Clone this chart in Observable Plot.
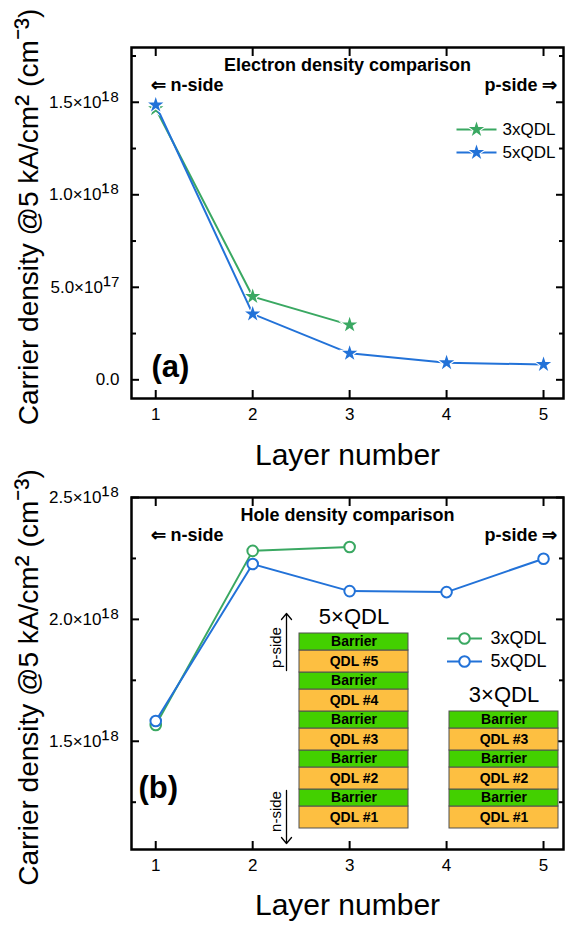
<!DOCTYPE html>
<html><head><meta charset="utf-8">
<script src="https://cdn.jsdelivr.net/npm/d3@7"></script>
<script src="https://cdn.jsdelivr.net/npm/@observablehq/plot@0.6"></script>
<style>
body{margin:0;background:#fff;}
#wrap{position:relative;width:565px;height:925px;overflow:hidden;background:#fff;}
#wrap svg{display:block;}
#inset{position:absolute;left:260px;top:600px;}
</style></head><body><div id="wrap"></div>
<script>
// ---------- data ----------
const layers = [1, 2, 3, 4, 5];
const seriesNames = ["3xQDL", "5xQDL"];
const seriesColors = ["#3aa862", "#2272d8"];
const electron3x = [1.465e18, 4.50e17, 2.97e17];
const electron5x = [1.485e18, 3.56e17, 1.43e17, 9.2e16, 8.3e16];
const hole3x = [1.567e18, 2.281e18, 2.297e18];
const hole5x = [1.583e18, 2.227e18, 2.116e18, 2.112e18, 2.249e18];
const electronMajor = [0, 5e17, 1e18, 1.5e18];
const electronMinor = [2.5e17, 7.5e17, 1.25e18, 1.75e18];
const holeMajor = [1.5e18, 2e18, 2.5e18];
const holeMinor = [1.25e18, 1.75e18, 2.25e18];
const stackNames = ["5×QDL", "3×QDL"];
const stack5 = ["QDL #1", "Barrier", "QDL #2", "Barrier", "QDL #3", "Barrier", "QDL #4", "Barrier", "QDL #5", "Barrier"];
const stack3 = ["QDL #1", "Barrier", "QDL #2", "Barrier", "QDL #3", "Barrier"];
const layerKinds = ["Barrier", "QDL"];
const layerColors = ["#43d000", "#fdbf41"];
const layerThickness = {QDL: 22, Barrier: 17};
const yLabel = "Carrier density @5 kA/cm² (cm⁻³)";
const xLabel = "Layer number";

// ---------- helpers ----------
const supMap = {"0":"⁰","1":"¹","2":"²","3":"³","4":"⁴","5":"⁵","6":"⁶","7":"⁷","8":"⁸","9":"⁹","-":"⁻"};
function sci(v) {
  if (v === 0) return "0.0";
  const e = Math.floor(Math.log10(Math.abs(v)) + 1e-9);
  const m = v / Math.pow(10, e);
  return m.toFixed(1) + "×10" + String(e).split("").map(c => supMap[c]).join("");
}
const rowsOf = (vals, series) => vals.map((v, i) => ({layer: layers[i], value: v, series}));
const FONT = "'Liberation Sans', Arial, Helvetica, sans-serif";

function lineSymbol(half) {
  return {draw(ctx) { ctx.moveTo(-half, 0); ctx.lineTo(half, 0); }};
}

// enlarge the superscript glyph runs (keeps text content unchanged)
function enlargeSup(svg, selector, scale) {
  d3.select(svg).selectAll(selector).each(function() {
    if (this.querySelector("tspan")) return;
    const t = this.textContent;
    const parts = t.split(/([⁰¹²³⁴⁵⁶⁷⁸⁹⁻]+)/);
    if (parts.length < 2) return;
    const sel = d3.select(this);
    sel.text(null);
    parts.forEach((p, i) => {
      if (!p) return;
      const ts = sel.append("tspan").text(p);
      if (i % 2) ts.attr("font-size", scale + "em");
    });
  });
  return svg;
}

function panel(o) {
  const data = [rowsOf(o.s3, seriesNames[0]), rowsOf(o.s5, seriesNames[1])];
  const marker = (rows) => o.star
    ? Plot.dot(rows, {x: "layer", y: "value", symbol: "star", r: 4.8, fill: "series", stroke: "white", strokeWidth: 2.2, paintOrder: "stroke"})
    : Plot.dot(rows, {x: "layer", y: "value", symbol: "circle", r: 5.3, fill: "white", stroke: "series", strokeWidth: 2});
  const legendMarks = seriesNames.flatMap((name, i) => {
    const dy = o.legDy + i * 23;
    const base = {frameAnchor: "top-right", dx: o.legDx, dy};
    return [
      Plot.dot([name], {...base, symbol: lineSymbol(o.legHalf), stroke: d => d, strokeWidth: 2.2, fill: "none"}),
      o.star
        ? Plot.dot([name], {...base, symbol: "star", r: 4.8, fill: d => d, stroke: "white", strokeWidth: 2.2, paintOrder: "stroke"})
        : Plot.dot([name], {...base, symbol: "circle", r: 5.3, fill: "white", stroke: d => d, strokeWidth: 2}),
      Plot.text([name], {frameAnchor: "top-right", dx: o.legTextDx, dy, text: d => d, textAnchor: "start", lineAnchor: "middle", fontSize: o.legFont})
    ];
  });
  const tick = {fill: "none", strokeWidth: 2, label: null};
  const svg = Plot.plot({
    width: 565, height: o.height,
    marginTop: o.marginTop, marginBottom: o.marginBottom, marginLeft: 131, marginRight: 2,
    style: {fontFamily: FONT, background: "white", color: "black", overflow: "visible"},
    x: {domain: [0.75, 5.206]},
    y: {domain: o.yDomain},
    color: {domain: seriesNames, range: seriesColors},
    marks: [
      Plot.axisX(layers, {anchor: "bottom", tickSize: 0, tickPadding: 9, fontSize: 17, label: null}),
      Plot.axisX(layers, {anchor: "bottom", tickSize: -8, ...tick}),
      Plot.axisX(layers, {anchor: "top", tickSize: -8, ...tick}),
      Plot.axisY(o.major, {anchor: "left", tickSize: 0, tickPadding: 12, fontSize: 17, tickFormat: sci, label: null}),
      Plot.axisY(o.major, {anchor: "left", tickSize: -8, ...tick}),
      Plot.axisY(o.minor, {anchor: "left", tickSize: -5, ...tick}),
      Plot.axisY(o.major, {anchor: "right", tickSize: -8, ...tick}),
      Plot.axisY(o.minor, {anchor: "right", tickSize: -5, ...tick}),
      Plot.frame({stroke: "black", strokeWidth: 2.5}),
      Plot.line(data[0], {x: "layer", y: "value", stroke: "series", strokeWidth: 2}),
      marker(data[0]),
      Plot.line(data[1], {x: "layer", y: "value", stroke: "series", strokeWidth: 2}),
      marker(data[1]),
      ...legendMarks,
      Plot.text([o.title], {frameAnchor: "top", dy: 18, text: d => d, fontWeight: "bold", fontSize: 18, lineAnchor: "middle", textAnchor: "middle"}),
      Plot.text(["⇐ n-side"], {frameAnchor: "top-left", dx: 19, dy: 38, text: d => d, fontWeight: "bold", fontSize: 18, lineAnchor: "middle", textAnchor: "start"}),
      Plot.text(["p-side ⇒"], {frameAnchor: "top-right", dx: -6, dy: 38, text: d => d, fontWeight: "bold", fontSize: 18, lineAnchor: "middle", textAnchor: "end"}),
      Plot.text([o.tag], {frameAnchor: "bottom-left", dx: o.tagDx, dy: o.tagDy, text: d => d, fontWeight: "bold", fontSize: 31, lineAnchor: "middle", textAnchor: "start"}),
      Plot.text([xLabel], {frameAnchor: "bottom", dy: o.xLabelDy, text: d => d, fontSize: 30, lineAnchor: "middle", textAnchor: "middle"}),
      Plot.text([yLabel], {frameAnchor: "left", dx: -102, dy: o.yLabelDy, rotate: -90, text: d => d, fontSize: 28, lineAnchor: "middle", textAnchor: "middle"})
    ]
  });
  enlargeSup(svg, 'g[aria-label="y-axis tick label"] text', 1.4);
  enlargeSup(svg, "text", 1.2);
  return svg;
}

const wrap = document.getElementById("wrap");
wrap.append(panel({
  s3: electron3x, s5: electron5x, star: true,
  height: 462, marginTop: 47, marginBottom: 64,
  yDomain: [-1.01e17, 1.796e18], major: electronMajor, minor: electronMinor,
  title: "Electron density comparison", tag: "(a)", tagDx: 20, tagDy: -31, xLabelDy: 57, yLabelDy: -6,
  legDx: -87, legDy: 82, legHalf: 20, legTextDx: -61, legFont: 17
}));
wrap.append(panel({
  s3: hole3x, s5: hole5x, star: false,
  height: 463, marginTop: 35, marginBottom: 76,
  yDomain: [1.056e18, 2.5e18], major: holeMajor, minor: holeMinor,
  title: "Hole density comparison", tag: "(b)", tagDx: 7, tagDy: -61, xLabelDy: 56, yLabelDy: 4,
  legDx: -99, legDy: 141, legHalf: 17.5, legTextDx: -73, legFont: 18
}));

// ---------- inset: layer stacks ----------
function stackRows(stack, list) {
  let y = 0;
  return list.map(name => {
    const kind = name.startsWith("QDL") ? "QDL" : "Barrier";
    const r = {stack, name, kind, y1: y, y2: y + layerThickness[kind]};
    y = r.y2;
    return r;
  });
}
const insetRows = [...stackRows(stackNames[0], stack5), ...stackRows(stackNames[1], stack3)];
const stackTops = stackNames.map(s => ({stack: s, top: d3.max(insetRows.filter(r => r.stack === s), r => r.y2)}));
const sideArrows = [
  {stack: stackNames[0], label: "p-side", from: 158, to: 215, mid: 181},
  {stack: stackNames[0], label: "n-side", from: 38, to: -15, mid: 17}
];
const inset = Plot.plot({
  width: 305, height: 250, marginTop: 0, marginBottom: 22, marginLeft: 38, marginRight: 6,
  style: {fontFamily: FONT, background: "none", color: "black", overflow: "visible"},
  x: {type: "band", domain: stackNames, paddingInner: 0.2715, paddingOuter: 0, axis: null},
  y: {domain: [0, 228], axis: null},
  color: {domain: layerKinds, range: layerColors},
  marks: [
    Plot.barY(insetRows, {x: "stack", y1: "y1", y2: "y2", fill: "kind", stroke: "#505050", strokeWidth: 1, inset: 0}),
    Plot.text(insetRows, {x: "stack", y: d => (d.y1 + d.y2) / 2, text: "name", fontWeight: "bold", fontSize: 14, lineAnchor: "middle"}),
    Plot.text(stackTops, {x: "stack", y: "top", dy: -17, text: "stack", fontSize: 22, lineAnchor: "middle"}),
    Plot.arrow(sideArrows, {x1: "stack", x2: "stack", y1: "from", y2: "to", dx: -67.5, stroke: "black", strokeWidth: 1.3, headLength: 9, headAngle: 80}),
    Plot.text(sideArrows, {x: "stack", y: "mid", dx: -78, text: "label", rotate: -90, fontSize: 15, lineAnchor: "middle"})
  ]
});
const insetDiv = document.createElement("div");
insetDiv.id = "inset";
insetDiv.append(inset);
wrap.append(insetDiv);
</script></body></html>
